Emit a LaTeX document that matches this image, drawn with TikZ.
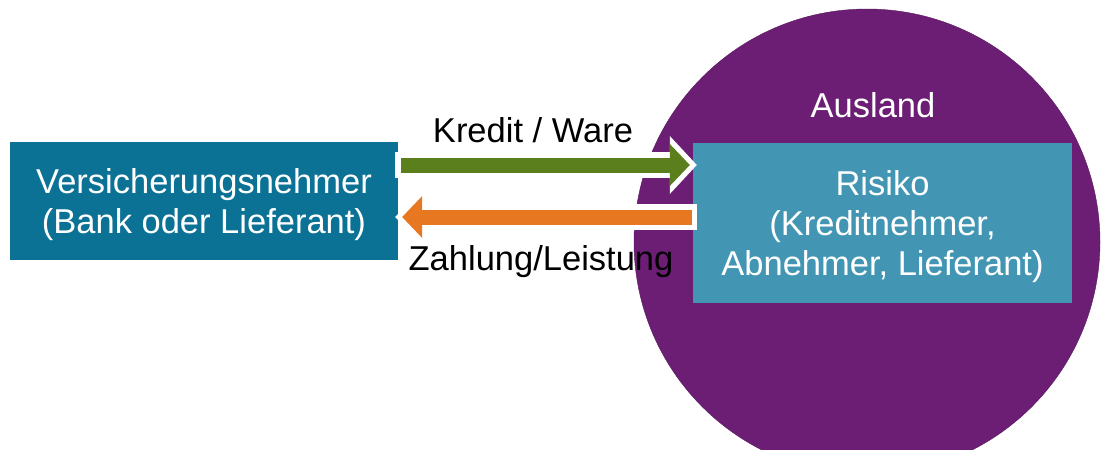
\documentclass[tikz,border=0pt]{standalone}
\usepackage{fontspec}
\setmainfont{Liberation Sans}
\usetikzlibrary{arrows.meta}

\definecolor{vnblue}{RGB}{11,114,150}
\definecolor{rkblue}{RGB}{66,150,180}
\definecolor{alpurple}{RGB}{108,30,116}
\definecolor{kwgreen}{RGB}{91,127,29}
\definecolor{zlorange}{RGB}{232,119,34}

\tikzset{
    box/.style={fill=#1, text=white, align=center, inner sep=0pt, text depth=0pt},
    flowback/.style={draw=white, line width=26pt,
        -{Triangle[length=27pt,width=58pt,line width=0pt]}},
    flowfront/.style={draw=#1, line width=15pt,
        -{Triangle[length=20pt,width=42pt,line width=0pt]}},
    lbl/.style={font=\fontsize{34.5}{40}\selectfont}
}

\begin{document}
\begin{tikzpicture}[x=1pt,y=-1pt]
    \useasboundingbox (0,0) rectangle (1101,450);

    % Ausland
    \node[circle, fill=alpurple, draw=alpurple!80!black, minimum size=466pt] (al) at (867,242) {};
    \node[lbl, text=white] (altxt) at (873,105) {Ausland};

    % Parteien
    \node[box=vnblue, minimum width=388pt, minimum height=118pt, lbl] (vn) at (204,201)
        {Versicherungsnehmer\\(Bank oder Lieferant)};
    \node[box=rkblue, minimum width=379pt, minimum height=160pt, lbl] (rk) at (882.5,222.5)
        {Risiko\\(Kreditnehmer,\\Abnehmer, Lieferant)};

    % Fluesse
    \coordinate (gy) at (0,165);
    \coordinate (oy) at (0,217);
    \draw[flowback] ([xshift=-3pt]vn.east |- gy) -- ([xshift=4pt]rk.west |- gy);
    \draw[flowfront=kwgreen] ([xshift=3pt]vn.east |- gy) -- ([xshift=-3pt]rk.west |- gy);
    \draw[flowback] ([xshift=4pt]rk.west |- oy) -- ([xshift=-3pt]vn.east |- oy);
    \draw[flowfront=zlorange] ([xshift=-1pt]rk.west |- oy) -- ([xshift=4pt]vn.east |- oy);

    \node[lbl] (kw) at (533,130) {Kredit / Ware};
    \node[lbl] (zl) at (541,262) {Zahlung/Leistung};
\end{tikzpicture}
\end{document}
